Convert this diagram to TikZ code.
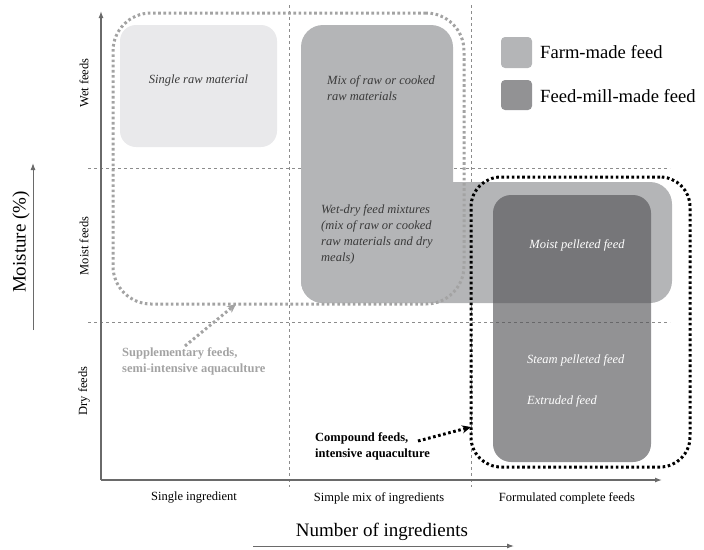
\documentclass[tikz,border=0pt]{standalone}
\usepackage{fontspec}
\setmainfont{Liberation Serif}
\usepackage{tikz}
\usetikzlibrary{arrows.meta,positioning,calc}
\definecolor{rawfill}{HTML}{E9E9EB}
\definecolor{farmfill}{HTML}{B4B5B7}
\definecolor{millfill}{HTML}{525255}
\definecolor{axisgray}{HTML}{6A6A6A}
\definecolor{gridgray}{HTML}{8C8C8C}
\definecolor{suppgray}{HTML}{A3A3A3}
\definecolor{boxtext}{HTML}{3A3A3A}

\begin{document}
\begin{tikzpicture}[
    x=1pt, y=-1pt,
    txt/.style={font=\fontsize{12.5}{16}\selectfont, inner sep=0pt},
    boxtxt/.style={inner sep=0pt, font=\fontsize{12.5}{16}\selectfont\itshape, text=boxtext, align=left},
    milltxt/.style={inner sep=0pt, font=\fontsize{12.5}{16}\selectfont\itshape, text=white, align=left},
    remark/.style={inner sep=0pt, font=\fontsize{12.5}{16}\selectfont\bfseries, align=left},
    bigtxt/.style={inner sep=0pt, font=\fontsize{19}{22}\selectfont},
    legtxt/.style={inner sep=0pt, font=\fontsize{18.6}{22}\selectfont, anchor=west},
    rawbox/.style={rectangle, fill=rawfill, rounded corners=16pt},
    farmbox/.style={rectangle, fill=farmfill, rounded corners=22pt},
    millbox/.style={rectangle, fill=millfill, fill opacity=0.63, rounded corners=18pt},
    grid line/.style={gridgray, line width=0.8pt, dash pattern=on 3pt off 3pt},
    axis/.style={axisgray, line width=1.3pt, -{Latex[length=7pt,width=5pt]}},
    dots/.style={line width=3pt, dash pattern=on 2.6pt off 2.6pt},
    outline/.style={rectangle, draw, dots, inner sep=0pt}
]
    \useasboundingbox (0,0) rectangle (704,549);

    % Grid
    \draw[grid line] (88,168) -- (670,168);
    \draw[grid line] (88,322) -- (670,322);
    \draw[grid line] (289,5) -- (289,487);
    \draw[grid line] (471,5) -- (471,487);

    % Axes
    \coordinate (origin) at (101,480);
    \coordinate (ytip) at (101,11);
    \coordinate (xtip) at (662,480);
    \draw[axis] (origin) -- (ytip);
    \draw[axis] (origin) -- (xtip);

    % Feed boxes
    \node[rawbox, minimum width=157pt, minimum height=122pt] (raw) at (198.5,86) {};
    \node[farmbox, minimum width=152pt, minimum height=278pt] (mix) at (377,164) {};
    \node[farmbox, minimum width=371pt, minimum height=121pt] (wetdry) at (486.5,242.5) {};
    \node[millbox, minimum width=158pt, minimum height=267pt] (mill) at (572,328.5) {};

    % Box texts
    \node[boxtxt] (rawtxt) at (raw.center) [yshift=6pt] {Single raw material};
    \node[boxtxt, anchor=west] (mixtxt) at (327,88) {Mix of raw or cooked\\raw materials};
    \node[boxtxt, anchor=west] (wetdrytxt) at (321,234) {Wet-dry feed mixtures\\(mix of raw or cooked\\raw materials and dry\\meals)};
    \node[milltxt] (moist) at (577,245) {Moist pelleted feed};
    \node[milltxt, anchor=west] (steam) at (527,360) {Steam pelleted feed};
    \node[milltxt, anchor=west] (extruded) at (527,401) {Extruded feed};

    % Aquaculture outlines
    \node[outline, suppgray, minimum width=351pt, minimum height=291pt, rounded corners=38pt] (supp) at (288.5,158.5) {};
    \node[outline, black, minimum width=219pt, minimum height=290pt, rounded corners=30pt] (comp) at (580.5,322) {};

    % Remarks
    \node[remark, text=suppgray, anchor=west] (supptxt) at (122,361) {Supplementary feeds,\\semi-intensive aquaculture};
    \node[remark, anchor=west] (comptxt) at (315,446) {Compound feeds,\\intensive aquaculture};
    \coordinate (suppstart) at (185,346);
    \coordinate (suppend) at (236,304);
    \coordinate (compstart) at (418,441);
    \coordinate (compend) at (471,427);
    \draw[dots, suppgray, -{Stealth[length=9pt,width=8pt]}] (suppstart) -- (suppend);
    \draw[dots, black, -{Stealth[length=9pt,width=8pt]}] (compstart) -- (compend);

    % Legend
    \node[rectangle, fill=farmfill, rounded corners=4pt, minimum width=31pt, minimum height=31pt] (legfarm) at (516.5,52.5) {};
    \node[rectangle, fill=millfill, fill opacity=0.63, rounded corners=4pt, minimum width=31pt, minimum height=30pt] (legmill) at (516.5,95) {};
    \node[legtxt] (legfarmtxt) at (540,52) {Farm-made feed};
    \node[legtxt] (legmilltxt) at (540,96) {Feed-mill-made feed};

    % Axis labels
    \node[txt, rotate=90] (wet) at (84,83) {Wet feeds};
    \node[txt, rotate=90] (moistfeeds) at (84,246) {Moist feeds};
    \node[txt, rotate=90] (dry) at (84,391) {Dry feeds};
    \node[txt] (single) at (194,498) {Single ingredient};
    \node[txt] (simple) at (379,498) {Simple mix of ingredients};
    \node[txt] (formulated) at (567,498) {Formulated complete feeds};
    \node[bigtxt] (number) at (382,532) {Number of ingredients};
    \node[bigtxt, rotate=90] (moisture) at (21,242) {Moisture (\%)};
    \coordinate (nstart) at (253,546);
    \coordinate (nend) at (514,546);
    \coordinate (mstart) at (33,330);
    \coordinate (mend) at (33,163);
    \draw[axis, line width=1pt] (nstart) -- (nend);
    \draw[axis, line width=1pt] (mstart) -- (mend);

\end{tikzpicture}
\end{document}
